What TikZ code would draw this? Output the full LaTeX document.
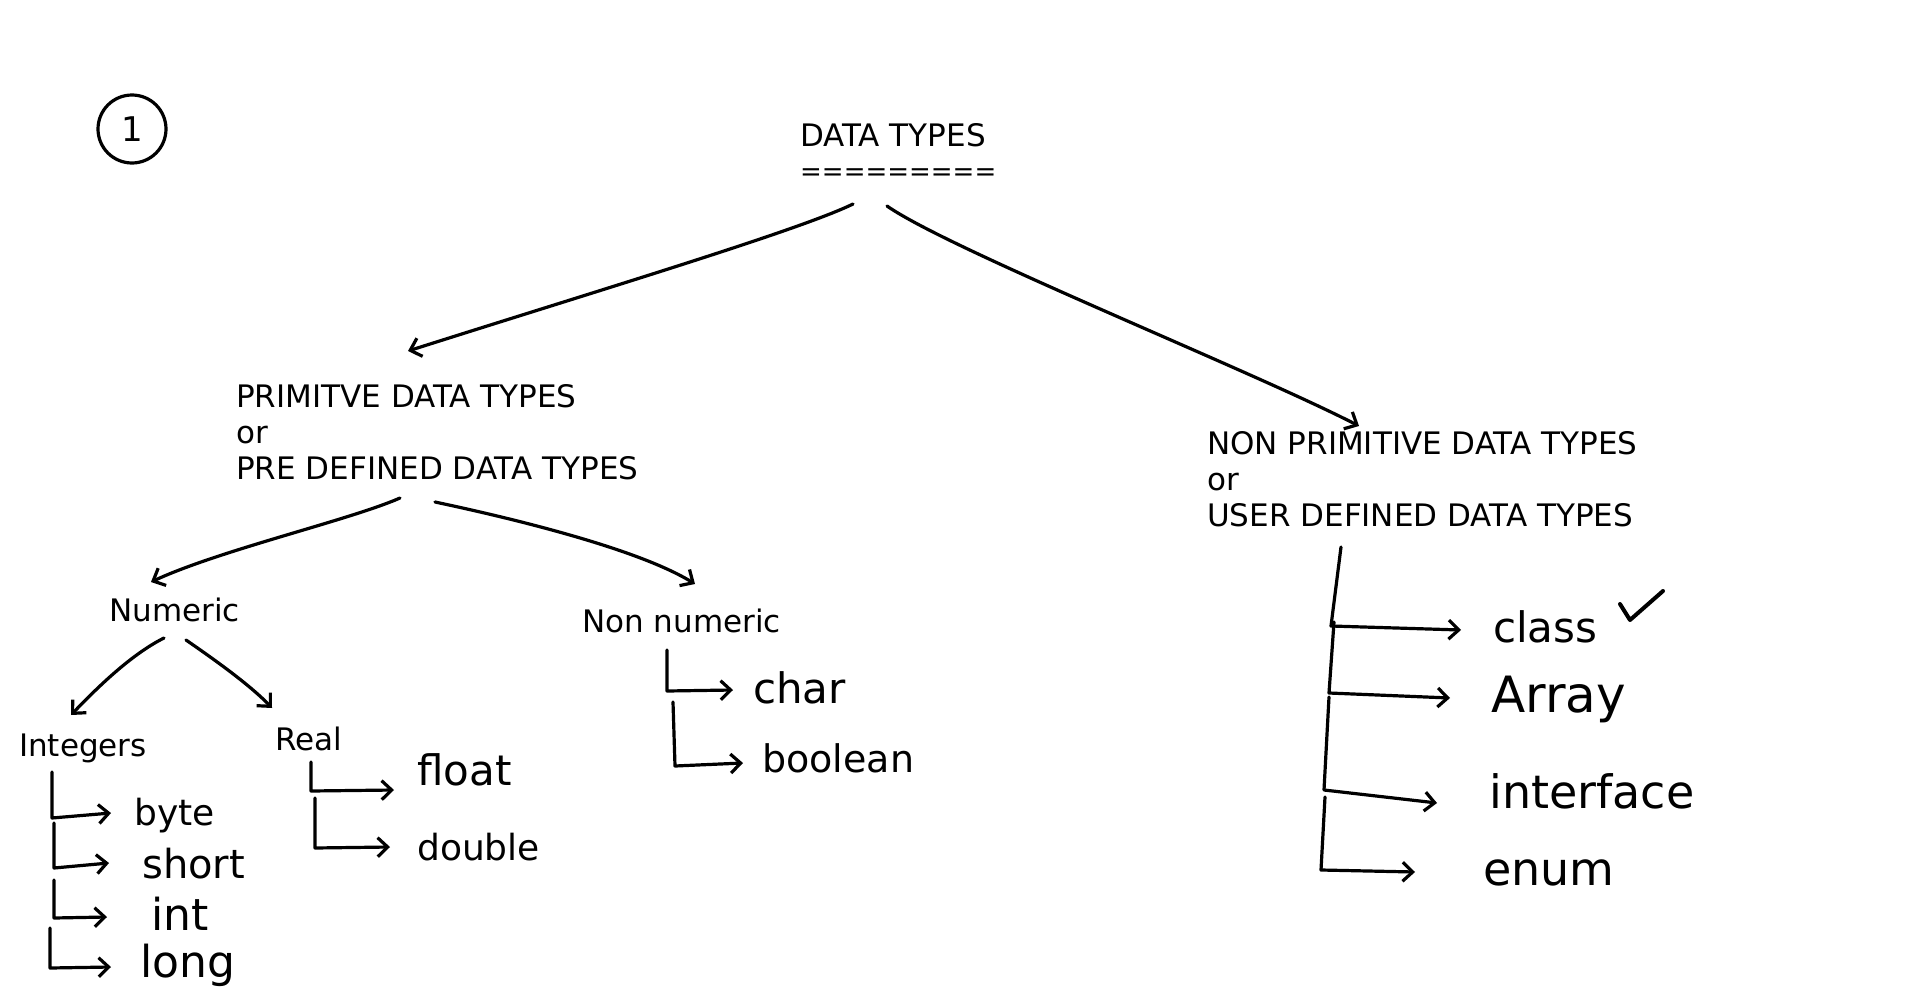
\documentclass[tikz,border=0pt]{standalone}
\usepackage{fontspec}
\setmainfont{DejaVu Sans}
\usetikzlibrary{arrows.meta}
\begin{document}
\begin{tikzpicture}[x=1pt,y=-1pt,
  lbl/.style={anchor=base west, inner sep=0pt, font=\fontsize{31}{36}\selectfont},
  hw/.style={anchor=base west, inner sep=0pt, font=\fontsize{#1}{#1}\selectfont},
  ink/.style={line width=3.2pt, line cap=round, line join=round},
  arr/.style={ink, -{Straight Barb[length=10pt,width=19pt]}}
]
\fill[white] (0,0) rectangle (1920,1001);
\useasboundingbox (0,0) rectangle (1920,1001);

% page mark
\node[draw, circle, ink, minimum size=68pt, inner sep=0pt, font=\fontsize{34}{34}\selectfont] (pg) at (132,129) {1};

% printed labels
\node[lbl] (dt) at (800,146) {DATA TYPES};
\node[lbl, font=\fontsize{26}{30}\selectfont] (dteq) at (800,180) {=========};
\node[lbl, align=left] (prim) at (236,479) {PRIMITVE DATA TYPES\\or\\PRE DEFINED DATA TYPES};
\node[lbl, align=left] (nonprim) at (1207,526) {NON PRIMITIVE DATA TYPES\\or\\USER DEFINED DATA TYPES};
\node[lbl] (num) at (109,621) {Numeric};
\node[lbl] (nonnum) at (582,632) {Non numeric};
\node[lbl] (ints) at (19,756) {Integers};
\node[lbl] (real) at (275,750) {Real};

% handwritten leaves
\node[hw=36] (byte) at (134,825) {byte};
\node[hw=40] (short) at (142,878) {short};
\node[hw=44] (int) at (151,930) {int};
\node[hw=44] (long) at (140,977) {long};
\node[hw=42] (float) at (417,785) {float};
\node[hw=36] (double) at (417,860) {double};
\node[hw=42] (char) at (753,703) {char};
\node[hw=38] (bool) at (762,772) {boolean};
\node[hw=42] (class) at (1493,642) {class};
\node[hw=50] (array) at (1491,712) {Array};
\node[hw=46] (iface) at (1489,808) {interface};
\node[hw=46] (enum) at (1483,885) {enum};

% connector end points
\coordinate (dtA) at (853,204);
\coordinate (dtB) at (887,206);
\coordinate (primT) at (408,351);
\coordinate (nonprimT) at (1359,426);
\coordinate (primA) at (400,498);
\coordinate (primB) at (435,502);
\coordinate (numT) at (151,582);
\coordinate (nonnumT) at (695,584);
\coordinate (numA) at (164,638);
\coordinate (numB) at (186,640);
\coordinate (intsT) at (71,715);
\coordinate (realT) at (272,708);

% main tree arrows
\draw[arr] (dtA) .. controls (800,230) and (600,290) .. (primT);
\draw[arr] (dtB) .. controls (950,250) and (1250,370) .. (nonprimT);
\draw[arr] (primA) .. controls (350,520) and (220,550) .. (numT);
\draw[arr] (primB) .. controls (520,520) and (640,550) .. (nonnumT);
\draw[arr] (numA) .. controls (130,655) and (95,690) .. (intsT);
\draw[arr] (numB) .. controls (215,660) and (250,685) .. (realT);

% integers brackets
\draw[arr] (52,772) -- (52,818) -- (111,813);
\draw[arr] (54,823) -- (54,868) -- (109,863);
\draw[arr] (54,880) -- (54,918) -- (107,917);
\draw[arr] (50,928) -- (50,968) -- (111,967);

% real brackets
\draw[arr] (311,762) -- (311,791) -- (394,790);
\draw[arr] (315,798) -- (315,848) -- (390,847);

% non numeric brackets
\draw[arr] (667,650) -- (667,691) -- (733,690);
\draw[arr] (673,702) -- (675,766) -- (743,763);

% non primitive brackets
\draw[arr] (1341,547) -- (1331,626) -- (1461,630);
\draw[arr] (1334,622) -- (1329,693) -- (1450,698);
\draw[arr] (1329,697) -- (1324,790) -- (1437,803);
\draw[arr] (1325,797) -- (1321,870) -- (1415,872);

% check mark
\draw[ink, line width=4pt] (1620,604) -- (1630,620) -- (1663,591);
\end{tikzpicture}
\end{document}
